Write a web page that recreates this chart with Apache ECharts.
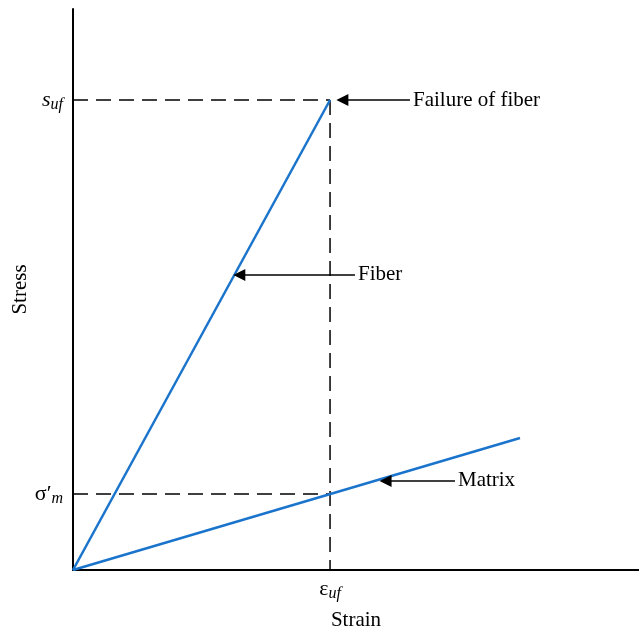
<!DOCTYPE html>
<html><head><meta charset="utf-8">
<script src="https://cdn.jsdelivr.net/npm/echarts@6/dist/echarts.min.js"></script>
<style>html,body{margin:0;padding:0;background:#fff}#c{width:639px;height:629px}</style>
</head><body><div id="c"></div>
<script>
// Normalised units: strain (eps_uf = 1), stress (s_uf = 1)
const xMax = 2.202, yMax = 1.1936;
const fiberLine = [[0, 0], [1, 1]];
const matrixLine = [[0, 0], [1.739, 0.281]];
const epsUf = 1.0, sUf = 1.0, sigmaM = 0.1617;
const guideTop = [[0, sUf], [epsUf, sUf]];
const guideVert = [[epsUf, sUf], [epsUf, 0]];
const guideMatrix = [[0, sigmaM], [epsUf, sigmaM]];
const arrows = [
  {coords: [[1.311, 1.0], [1.048, 1.0]], text: 'Failure of fiber'},
  {coords: [[1.097, 0.6277], [0.647, 0.6277]], text: 'Fiber'},
  {coords: [[1.486, 0.1894], [1.216, 0.1894]], text: 'Matrix'}
];
const xTickVals = [epsUf], xTickText = ['{e|ε}{s|uf}'];
const yTickVals = [sigmaM, sUf], yTickText = ['{e|σ′}{s|m}', '{i|s}{s|uf}'];

const serif = '"Liberation Serif", "DejaVu Serif", serif';
const blue = '#1a74cc';
const dashStyle = {color: '#000', width: 1.5, type: [15, 8]};
const chart = echarts.init(document.getElementById('c'));
chart.setOption({
  animation: false,
  grid: {left: 73, right: 0, top: 9, bottom: 59, containLabel: false, outerBoundsMode: 'none'},
  xAxis: {
    type: 'value', min: 0, max: xMax, splitLine: {show: false},
    name: 'Strain', nameLocation: 'middle', nameGap: 40, nameMoveOverlap: false,
    nameTextStyle: {fontFamily: serif, fontSize: 21, color: '#000'},
    axisLine: {onZero: false, lineStyle: {color: '#000', width: 2}},
    axisTick: {show: false},
    axisLabel: {
      customValues: xTickVals, margin: 7, fontFamily: serif, color: '#000',
      formatter: v => xTickText[xTickVals.indexOf(v)] || '',
      rich: {e: {fontFamily: serif, fontSize: 22, color: '#000'},
             s: {fontFamily: serif, fontSize: 16, fontStyle: 'italic', color: '#000', padding: [9, 0, 0, 0]}}
    }
  },
  yAxis: {
    type: 'value', min: 0, max: yMax, splitLine: {show: false},
    name: 'Stress', nameLocation: 'middle', nameGap: 42, nameRotate: 90, nameMoveOverlap: false,
    nameTextStyle: {fontFamily: serif, fontSize: 21, color: '#000'},
    axisLine: {onZero: false, lineStyle: {color: '#000', width: 2}},
    axisTick: {show: false},
    axisLabel: {
      customValues: yTickVals, margin: 10, fontFamily: serif, color: '#000',
      formatter: v => yTickText[yTickVals.indexOf(v)] || '',
      rich: {e: {fontFamily: serif, fontSize: 22, color: '#000'},
             i: {fontFamily: serif, fontSize: 22, fontStyle: 'italic', color: '#000'},
             s: {fontFamily: serif, fontSize: 16, fontStyle: 'italic', color: '#000', padding: [9, 0, 0, 0]}}
    }
  },
  series: [
    {type: 'line', data: guideTop, symbol: 'none', lineStyle: dashStyle, z: 1},
    {type: 'line', data: guideVert, symbol: 'none', lineStyle: dashStyle, z: 1},
    {type: 'line', data: guideMatrix, symbol: 'none', lineStyle: dashStyle, z: 1},
    {type: 'line', data: fiberLine, symbol: 'none', lineStyle: {color: blue, width: 2.5}, z: 3},
    {type: 'line', data: matrixLine, symbol: 'none', lineStyle: {color: blue, width: 2.5}, z: 3},
    {type: 'lines', coordinateSystem: 'cartesian2d', z: 4,
     symbol: ['none', 'path://M0,0 L4,12 L-4,12 Z'], symbolSize: [0, 12],
     itemStyle: {color: '#000'},
     lineStyle: {color: '#000', width: 1.5, opacity: 1},
     data: arrows.map(a => ({coords: a.coords}))},
    {type: 'scatter', symbolSize: 0, z: 5, itemStyle: {opacity: 1},
     data: arrows.map(a => ({value: a.coords[0], name: a.text})),
     label: {show: true, position: 'right', distance: 3, formatter: p => p.name,
             fontFamily: serif, fontSize: 21, color: '#000'}}
  ]
});
</script></body></html>
